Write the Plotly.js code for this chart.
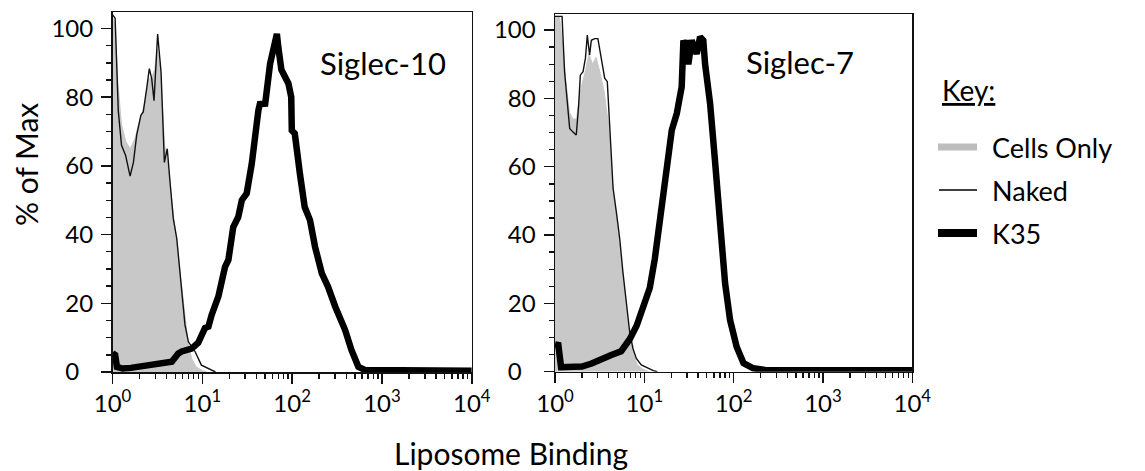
<!DOCTYPE html>
<html>
<head>
<meta charset="utf-8">
<script src="https://cdn.plot.ly/plotly-3.0.1.min.js"></script>
<style>html,body{margin:0;padding:0;background:#fff;}#chart{width:1145px;height:471px;}</style>
</head>
<body>
<div id="chart"></div>
<script>
// ---------- Data ----------
// Panel 1: Siglec-10
const s10CellsX = [1.0, 1.07, 1.15, 1.26, 1.41, 1.58, 1.78, 2.0, 2.24, 2.51, 2.75, 2.95, 3.16, 3.47, 3.80, 4.17, 4.57, 5.01, 5.62, 6.31, 6.92, 7.59, 8.51, 10.0, 11.2];
const s10CellsY = [104, 100, 84, 72, 67, 65, 68, 73, 77, 85, 86, 88, 94, 86, 66, 60, 50, 41, 29, 17, 9, 4, 1.5, 0.4, 0];

const s10NakedX = [1.0, 1.07, 1.16, 1.26, 1.40, 1.57, 1.71, 1.86, 2.07, 2.20, 2.40, 2.57, 2.73, 2.90, 3.18, 3.47, 3.78, 4.07, 4.37, 4.75, 5.19, 5.62, 6.03, 6.41, 7.0, 8.32, 9.77, 11.2, 13.0, 14.0];
const s10NakedY = [104, 103, 76, 66, 63, 57, 61, 69, 74.7, 75.7, 82.5, 88.3, 85.4, 79, 98.4, 87.3, 61, 65, 55.3, 44.7, 38.9, 30.1, 21.4, 13.7, 8.8, 5.9, 2, 1.2, 0.3, 0];

const s10K35X = [1.0, 1.07, 1.12, 1.3, 1.6, 1.95, 2.5, 2.95, 3.6, 4.57, 5.4, 5.9, 7.6, 8.3, 9.0, 10.7, 11.7, 12.7, 15.1, 17.9, 19.5, 22.1, 25.1, 27.5, 31.2, 35.5, 38.6, 42.1, 43.7, 50.1, 56.8, 64.6, 67.6, 70.1, 75.9, 90.8, 97.7, 99.1, 107, 122, 138, 158, 180, 214, 251, 302, 389, 457, 546, 646, 1000, 3000, 10000];
const s10K35Y = [5.5, 5, 1.5, 1, 1.2, 1.5, 1.8, 2, 2.5, 3, 5.4, 6, 6.8, 7.4, 8.5, 12.8, 13.2, 16.6, 22, 30.6, 32.6, 42.2, 45.1, 50, 52, 60.6, 70.3, 76.2, 78, 78.1, 89.7, 97.5, 98.4, 94.6, 88, 84, 80, 70.3, 69.4, 57.7, 48, 44.2, 36.4, 28.7, 24.8, 19, 12.2, 6.4, 1.5, 0.6, 0.5, 0.4, 0.4];

// Panel 2: Siglec-7
const s7CellsX = [1.0, 1.12, 1.23, 1.32, 1.45, 1.58, 1.74, 1.86, 2.0, 2.19, 2.40, 2.63, 2.88, 3.16, 3.55, 3.98, 4.37, 4.79, 5.25, 5.75, 6.31, 6.92, 7.59, 8.32, 9.55, 11.2];
const s7CellsY = [104, 104, 95, 85, 76, 74, 74, 80, 84, 88, 93, 90, 92, 88, 82, 72, 56, 47, 38, 28, 18, 10, 5, 2, 0.8, 0];

const s7NakedX = [1.0, 1.08, 1.20, 1.28, 1.34, 1.46, 1.58, 1.73, 1.84, 1.92, 2.06, 2.19, 2.30, 2.44, 2.55, 2.78, 3.02, 3.31, 3.60, 3.85, 4.07, 4.47, 4.86, 5.30, 5.75, 6.31, 6.85, 7.46, 8.13, 9.25, 11.0, 12.6, 14.0];
const s7NakedY = [104, 104, 104, 87.8, 82, 71.2, 70.2, 69.3, 78, 86.8, 87.8, 91.7, 98.5, 92.7, 97, 97.5, 97.5, 90.7, 85.9, 84.9, 73.2, 53.7, 46.8, 39, 29.3, 19.5, 11.7, 6.8, 3.9, 2, 1, 0.3, 0];

const s7K35X = [1.0, 1.09, 1.17, 1.5, 2.0, 2.57, 3.31, 4.27, 5.5, 6.86, 8.22, 9.77, 11.5, 13.1, 14.3, 15.7, 17.1, 18.1, 20.3, 23.1, 26.2, 27.4, 28.6, 29.9, 31.1, 33.9, 38.6, 42.1, 45.7, 47.9, 54.5, 61.7, 70.5, 80.2, 91.2, 108, 129, 166, 224, 500, 1000, 10000];
const s7K35Y = [8, 7.8, 1.3, 1.3, 1.5, 2.4, 3.4, 4.9, 6, 9.5, 13.5, 18.8, 24.5, 33, 41, 47, 56.1, 62.9, 70.7, 75.6, 83.4, 97, 95, 97, 90, 97, 93, 98, 97, 90, 78.5, 62, 42.4, 25.9, 15.1, 7.3, 2.5, 1, 0.5, 0.4, 0.4, 0.4];

const xTickVals = [1, 10, 100, 1000, 10000];
const xTickText = ['10<sup>0</sup>', '10<sup>1</sup>', '10<sup>2</sup>', '10<sup>3</sup>', '10<sup>4</sup>'];
const yTickVals = [0, 20, 40, 60, 80, 100];
const yTickText = ['0\u2007', '20', '40', '60', '80', '100'];
const panelTitles = ['Siglec-10', 'Siglec-7'];
const seriesNames = ['Cells Only', 'Naked', 'K35'];

// ---------- Styling ----------
const FONT = 'Lato, "Open Sans", sans-serif';
const INK = '#111';
const GRAY = '#c8c8c8';

const minorX = [];
for (let k = 0; k < 4; k++) for (let d = 2; d <= 9; d++) minorX.push(d * Math.pow(10, k));

function cellsTrace(x, y, xa, ya) {
  return {x, y, xaxis: xa, yaxis: ya, type: 'scatter', mode: 'lines', name: seriesNames[0],
    fill: 'tozeroy', fillcolor: GRAY, line: {color: GRAY, width: 1}, showlegend: false, hoverinfo: 'skip'};
}
function nakedTrace(x, y, xa, ya) {
  return {x, y, xaxis: xa, yaxis: ya, type: 'scatter', mode: 'lines', name: seriesNames[1],
    line: {color: INK, width: 1.4}, showlegend: false, hoverinfo: 'skip'};
}
function k35Trace(x, y, xa, ya) {
  return {x, y, xaxis: xa, yaxis: ya, type: 'scatter', mode: 'lines', name: seriesNames[2],
    line: {color: '#000', width: 6.5}, showlegend: false, hoverinfo: 'skip'};
}

const data = [
  cellsTrace(s10CellsX, s10CellsY, 'x', 'y'),
  nakedTrace(s10NakedX, s10NakedY, 'x', 'y'),
  k35Trace(s10K35X, s10K35Y, 'x', 'y'),
  cellsTrace(s7CellsX, s7CellsY, 'x2', 'y2'),
  nakedTrace(s7NakedX, s7NakedY, 'x2', 'y2'),
  k35Trace(s7K35X, s7K35Y, 'x2', 'y2')
];

function xAxis(domain, anchor) {
  return {type: 'log', range: [0, 4], domain, anchor,
    showline: true, mirror: true, linecolor: INK, linewidth: 1.5,
    ticks: 'outside', ticklen: 10, tickwidth: 1.5, tickcolor: INK,
    tickmode: 'array', tickvals: xTickVals, ticktext: xTickText,
    tickfont: {family: FONT, size: 24, color: '#000'},
    showgrid: false, zeroline: false, fixedrange: true,
    minor: {ticks: 'outside', ticklen: 5, tickwidth: 1.4, tickcolor: INK, tickmode: 'array', tickvals: minorX, showgrid: false}};
}
function yAxis(domain, anchor) {
  return {range: [0, 104.7], domain, anchor,
    showline: true, mirror: true, linecolor: INK, linewidth: 1.5,
    ticks: 'outside', ticklen: 10, tickwidth: 1.5, tickcolor: INK,
    tickmode: 'array', tickvals: yTickVals, ticktext: yTickText, ticklabelstandoff: 3,
    tickfont: {family: FONT, size: 24, color: '#000'},
    showgrid: false, zeroline: false, fixedrange: true,
    minor: {ticks: 'outside', ticklen: 5, tickwidth: 1.4, tickcolor: INK, dtick: 5, tick0: 0, showgrid: false}};
}

const W = 1145, H = 471;
const px = v => v / W;
const py = v => (H - v) / H;

const layout = {
  width: W, height: H,
  margin: {l: 0, r: 0, t: 0, b: 0, pad: 0},
  paper_bgcolor: '#fff', plot_bgcolor: '#fff',
  font: {family: FONT, color: '#000'},
  showlegend: false,
  xaxis: xAxis([px(112.5), px(471.8)], 'y'),
  yaxis: yAxis([py(372), py(12.3)], 'x'),
  xaxis2: xAxis([px(555), px(912.3)], 'y2'),
  yaxis2: yAxis([py(371.7), py(14)], 'x2'),
  annotations: [
    {text: panelTitles[0], xref: 'paper', yref: 'paper', x: px(383), y: py(63), xanchor: 'center', yanchor: 'middle', showarrow: false, font: {family: FONT, size: 31, color: '#000'}},
    {text: panelTitles[1], xref: 'paper', yref: 'paper', x: px(800), y: py(62), xanchor: 'center', yanchor: 'middle', showarrow: false, font: {family: FONT, size: 31, color: '#000'}},
    {text: '% of Max', xref: 'paper', yref: 'paper', x: px(26), y: py(165), xanchor: 'center', yanchor: 'middle', textangle: -90, showarrow: false, font: {family: FONT, size: 30, color: '#000'}},
    {text: 'Liposome Binding', xref: 'paper', yref: 'paper', x: px(511), y: py(453), xanchor: 'center', yanchor: 'middle', showarrow: false, font: {family: FONT, size: 30, color: '#000'}},
    {text: '<u>Key:</u>', xref: 'paper', yref: 'paper', x: px(940), y: py(90), xanchor: 'left', yanchor: 'middle', showarrow: false, font: {family: FONT, size: 28, color: '#000'}},
    {text: seriesNames[0], xref: 'paper', yref: 'paper', x: px(990), y: py(147), xanchor: 'left', yanchor: 'middle', showarrow: false, font: {family: FONT, size: 27, color: '#000'}},
    {text: seriesNames[1], xref: 'paper', yref: 'paper', x: px(990), y: py(190), xanchor: 'left', yanchor: 'middle', showarrow: false, font: {family: FONT, size: 27, color: '#000'}},
    {text: seriesNames[2], xref: 'paper', yref: 'paper', x: px(990), y: py(233), xanchor: 'left', yanchor: 'middle', showarrow: false, font: {family: FONT, size: 27, color: '#000'}}
  ],
  shapes: [
    {type: 'line', xref: 'paper', yref: 'paper', x0: px(938), x1: px(977), y0: py(147), y1: py(147), line: {color: '#bdbdbd', width: 7}},
    {type: 'line', xref: 'paper', yref: 'paper', x0: px(939), x1: px(977), y0: py(190), y1: py(190), line: {color: '#000', width: 1.5}},
    {type: 'line', xref: 'paper', yref: 'paper', x0: px(938), x1: px(977), y0: py(233), y1: py(233), line: {color: '#000', width: 8}}
  ]
};

Plotly.newPlot('chart', data, layout, {staticPlot: true, displayModeBar: false});
</script>
</body>
</html>
